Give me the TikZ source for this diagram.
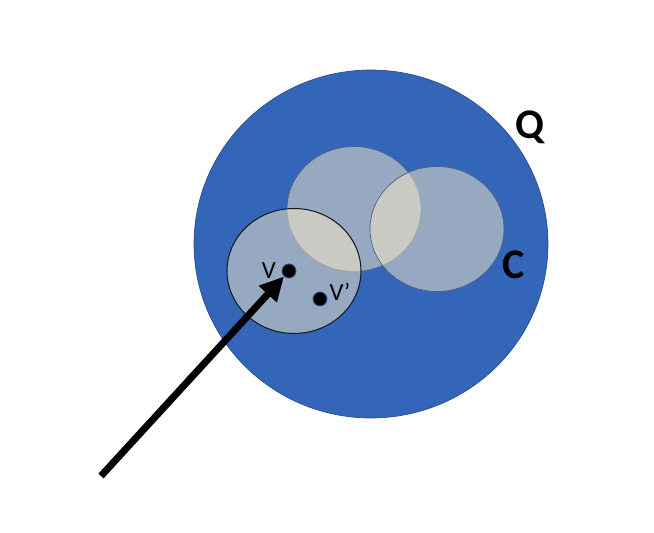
\documentclass[tikz,border=0pt]{standalone}
\usepackage{fontspec}
\setmainfont{Carlito}
\usetikzlibrary{positioning,arrows.meta,shapes.geometric}
\definecolor{setblue}{HTML}{3366B8}
\definecolor{rimblue}{HTML}{2A4F8C}
\definecolor{paleset}{RGB}{251,236,200}
\definecolor{edgecol}{HTML}{1A1A1A}

\begin{document}
\begin{tikzpicture}[
  x=0.02cm, y=-0.02cm,
  bigset/.style={ellipse, draw=rimblue, line width=0.4pt, fill=setblue,
                 inner sep=0pt, minimum width=7.08cm, minimum height=6.96cm},
  subset/.style={ellipse, draw=rimblue!60!gray, line width=0.4pt, fill=paleset,
                 fill opacity=0.5, inner sep=0pt,
                 minimum width=2.68cm, minimum height=2.5cm},
  dotnode/.style={circle, fill=black, draw=rimblue, line width=0.5pt,
                  inner sep=0pt, minimum size=0.28cm},
  lbl/.style={font=\fontsize{14pt}{16pt}\selectfont, text=black, inner sep=1pt},
  setlbl/.style={font=\fontsize{24pt}{28pt}\selectfont\bfseries, text=black, inner sep=0pt},
  arr/.style={-{Triangle[length=4.8mm, width=4.6mm]}, line width=1.4mm, draw=black},
]
\useasboundingbox (0,0) rectangle (654,533);

% ─── sets ──────────────────────────────────────────────────────────────────
\node[bigset] (qset) at (371,244) {};
\node[subset] (ctop) at (354,209) {};
\node[subset] (cright) at (437,229) {};
\node[subset, draw=edgecol, line width=0.6pt] (cleft) at (294,271) {};

\node[setlbl] (qlbl) at (530,127) {Q};
\node[setlbl] (clbl) at (514,265) {C};

% ─── points ────────────────────────────────────────────────────────────────
\node[dotnode] (v) at (289,271) {};
\node[dotnode] (vp) at (320,299) {};
\node[lbl, left=2pt of v] (vlbl) {V};
\node[lbl, right=0pt of vp, yshift=4pt] (vplbl) {V’};

% ─── arrow ─────────────────────────────────────────────────────────────────
\coordinate (tail) at (101,476);
\draw[arr] (tail) -- (v);

\end{tikzpicture}
\end{document}
